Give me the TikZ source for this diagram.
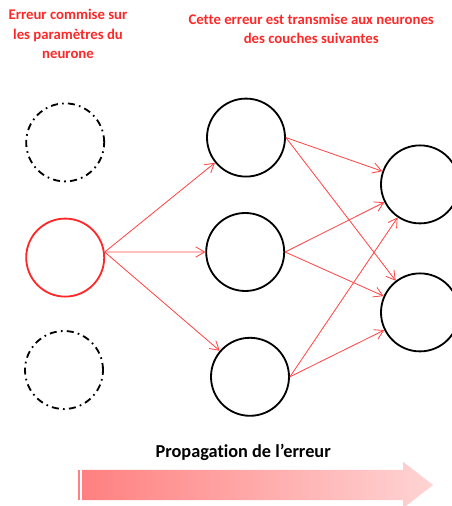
\documentclass[tikz,border=0pt]{standalone}
\usepackage{fontspec}
\setmainfont{Carlito}[Ligatures=NoCommon]
\usetikzlibrary{arrows.meta, positioning, calc}

\definecolor{errred}{RGB}{255,40,40}
\definecolor{arrowdark}{RGB}{255,128,128}
\definecolor{arrowlight}{RGB}{255,212,212}

\begin{document}
\begin{tikzpicture}[
			neuron/.style={circle, draw=black, line width=1.3pt, minimum size=1.95cm, inner sep=0pt},
			ghost/.style={neuron, dash pattern=on 5pt off 3pt on 1.2pt off 3pt},
			faulty/.style={neuron, draw=errred},
			link/.style={-{Straight Barb[length=2.2mm, width=2.6mm]}, draw=errred!85, line width=0.6pt},
			redtext/.style={font=\bfseries\fontsize{10.5}{13.6}\selectfont, text=errred, align=center}
			]
			
			\useasboundingbox (0,0) rectangle (11.3,12.65);
			\clip (0,0) rectangle (11.3,12.65);
			
			% layer of the faulty neuron
			\node[ghost] (top) at (1.63,9.09) {};
			\node[faulty] (err) at (1.63,6.21) {};
			\node[ghost] (bot) at (1.6,3.4) {};
			
			% next layers
			\node[neuron] (m1) at (6.15,9.21) {};
			\node[neuron] (m2) at (6.13,6.35) {};
			\node[neuron] (m3) at (6.25,3.23) {};
			\node[neuron] (r1) at (10.5,8.04) {};
			\node[neuron] (r2) at (10.5,4.84) {};
			
			\draw[link] (err.8) -- (m1);
			\draw[link] (err.8) -- (m2);
			\draw[link] (err.8) -- (m3);
			\foreach \src in {m1,m2,m3}{
				\draw[link] (\src.east) -- (r1);
				\draw[link] (\src.east) -- (r2);
			}
			
			\node[redtext] (lbl1) at (1.7,11.8) {Erreur commise sur\\les paramètres du\\neurone};
			\node[redtext] (lbl2) at (7.78,11.92) {Cette erreur est transmise aux neurones\\des couches suivantes};
			
			% propagation arrow
			\shade[left color=arrowdark, right color=arrowlight]
				(2.05,0.9) -- (10.08,0.9) -- (10.08,1.1) -- (10.83,0.525) -- (10.08,-0.05) -- (10.08,0.15) -- (2.05,0.15) -- cycle;
			\fill[arrowdark] (1.95,0.9) rectangle (2.0,0.15);
			\node[font=\bfseries\fontsize{13}{15}\selectfont] (prop) at (6.08,1.35) {Propagation de l’erreur};
		\end{tikzpicture}
\end{document}
